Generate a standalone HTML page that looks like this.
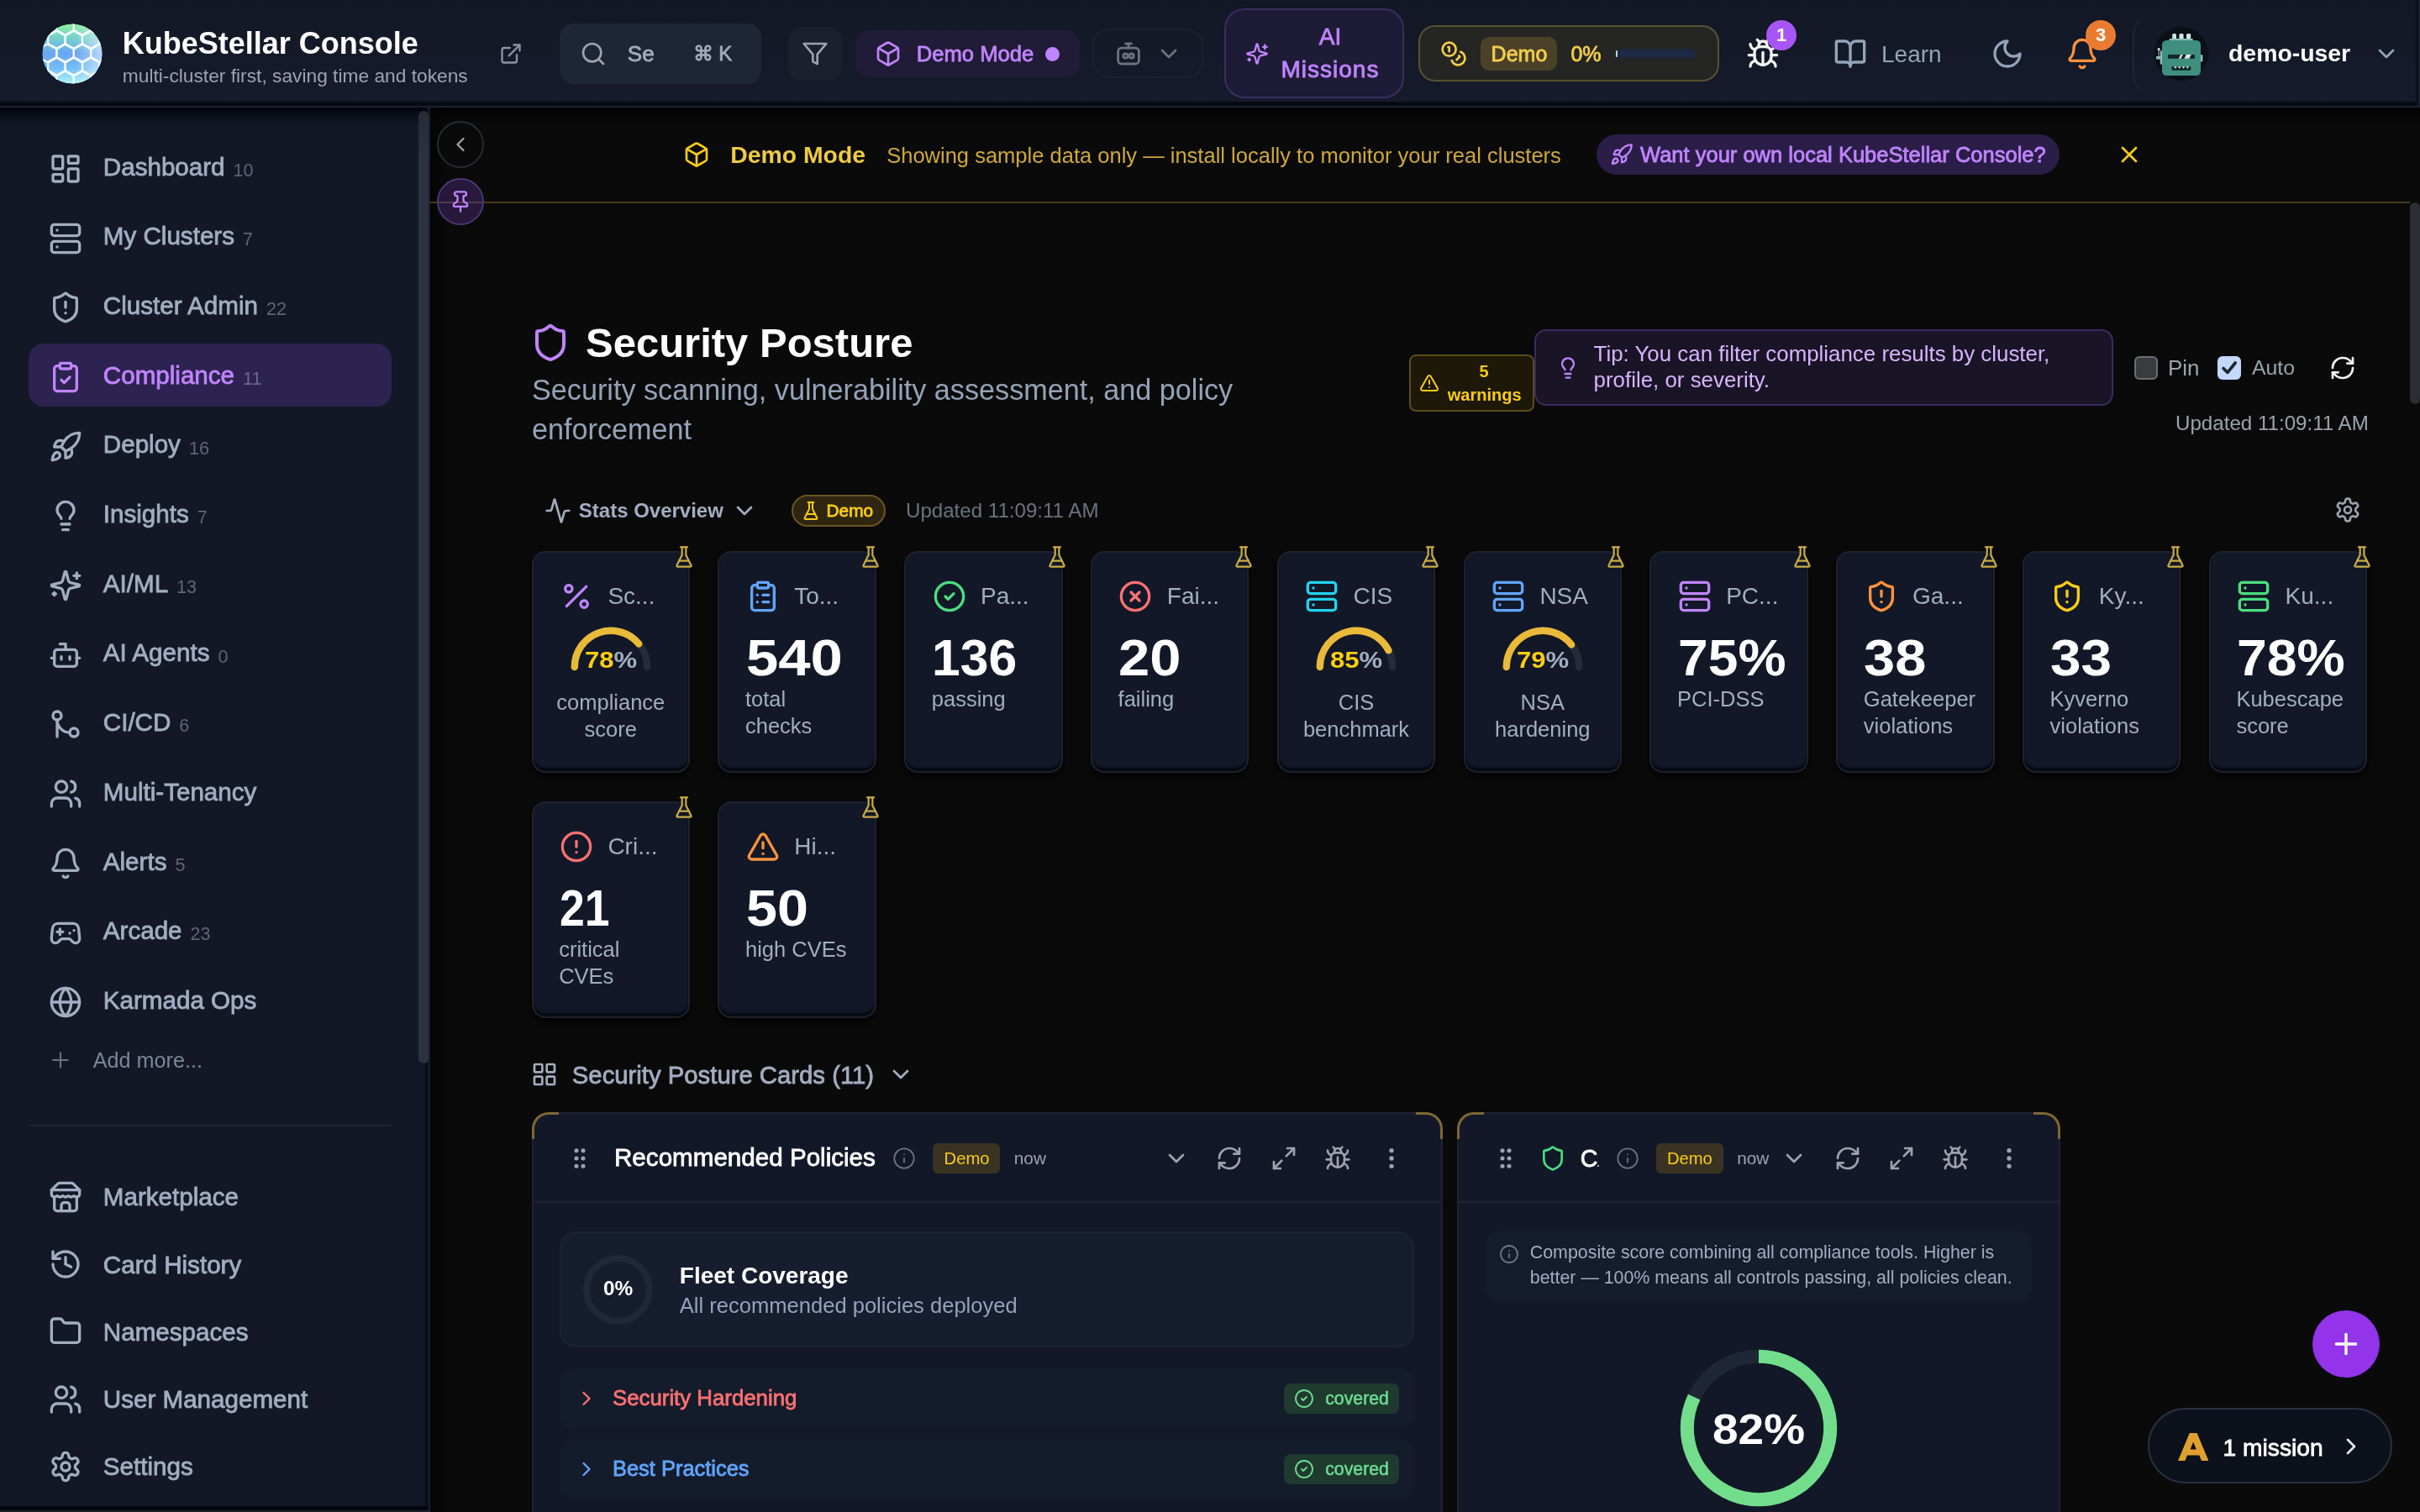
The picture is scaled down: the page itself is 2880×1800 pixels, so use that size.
<!DOCTYPE html>
<html><head><meta charset="utf-8">
<style>
html,body{margin:0;padding:0;background:#0a0a0a;}
body{width:2880px;height:1800px;overflow:hidden;}
#root{zoom:2;will-change:transform;width:1440px;height:900px;position:relative;overflow:hidden;font-family:"Liberation Sans",sans-serif;color:#e5e7eb;background:#0a0a0a;}
.a{position:absolute;}
.ic{fill:none;stroke:currentColor;stroke-width:2;stroke-linecap:round;stroke-linejoin:round;display:block;}
.t{white-space:nowrap;}
@media (min-resolution: 1.5dppx){body{width:1440px;height:900px;}#root{zoom:1;}}
</style></head><body><div id="root">
<svg width="0" height="0" style="position:absolute">
<defs>
<symbol id="i-dash" viewBox="0 0 24 24"><rect width="7" height="9" x="3" y="3" rx="1"/><rect width="7" height="5" x="14" y="3" rx="1"/><rect width="7" height="9" x="14" y="12" rx="1"/><rect width="7" height="5" x="3" y="16" rx="1"/></symbol>
<symbol id="i-server" viewBox="0 0 24 24"><rect width="20" height="8" x="2" y="2" rx="2" ry="2"/><rect width="20" height="8" x="2" y="14" rx="2" ry="2"/><line x1="6" x2="6.01" y1="6" y2="6"/><line x1="6" x2="6.01" y1="18" y2="18"/></symbol>
<symbol id="i-shield-alert" viewBox="0 0 24 24"><path d="M20 13c0 5-3.5 7.5-7.66 8.95a1 1 0 0 1-.67-.01C7.5 20.5 4 18 4 13V6a1 1 0 0 1 1-1c2 0 4.5-1.2 6.24-2.72a1.17 1.17 0 0 1 1.520 0C14.51 3.81 17 5 19 5a1 1 0 0 1 1 1z"/><path d="M12 8v4"/><path d="M12 16h.01"/></symbol>
<symbol id="i-shield" viewBox="0 0 24 24"><path d="M20 13c0 5-3.5 7.5-7.66 8.95a1 1 0 0 1-.67-.01C7.5 20.5 4 18 4 13V6a1 1 0 0 1 1-1c2 0 4.5-1.2 6.24-2.72a1.17 1.17 0 0 1 1.52 0C14.51 3.81 17 5 19 5a1 1 0 0 1 1 1z"/></symbol>
<symbol id="i-clip-check" viewBox="0 0 24 24"><rect width="8" height="4" x="8" y="2" rx="1" ry="1"/><path d="M16 4h2a2 2 0 0 1 2 2v14a2 2 0 0 1-2 2H6a2 2 0 0 1-2-2V6a2 2 0 0 1 2-2h2"/><path d="m9 14 2 2 4-4"/></symbol>
<symbol id="i-clip-list" viewBox="0 0 24 24"><rect width="8" height="4" x="8" y="2" rx="1" ry="1"/><path d="M16 4h2a2 2 0 0 1 2 2v14a2 2 0 0 1-2 2H6a2 2 0 0 1-2-2V6a2 2 0 0 1 2-2h2"/><path d="M12 11h4"/><path d="M12 16h4"/><path d="M8 11h.01"/><path d="M8 16h.01"/></symbol>
<symbol id="i-rocket" viewBox="0 0 24 24"><path d="M4.5 16.5c-1.5 1.26-2 5-2 5s3.74-.5 5-2c.71-.84.7-2.13-.09-2.91a2.18 2.18 0 0 0-2.91-.09z"/><path d="m12 15-3-3a22 22 0 0 1 2-3.950A12.88 12.88 0 0 1 22 2c0 2.72-.78 7.5-6 11a22.35 22.35 0 0 1-4 2z"/><path d="M9 12H4s.55-3.03 2-4c1.62-1.08 5 0 5 0"/><path d="M12 15v5s3.03-.55 4-2c1.08-1.62 0-5 0-5"/></symbol>
<symbol id="i-bulb" viewBox="0 0 24 24"><path d="M15 14c.2-1 .7-1.7 1.5-2.5 1-.9 1.5-2.2 1.5-3.5A6 6 0 0 0 6 8c0 1 .2 2.2 1.5 3.5.7.7 1.3 1.5 1.5 2.5"/><path d="M9 18h6"/><path d="M10 22h4"/></symbol>
<symbol id="i-sparkles" viewBox="0 0 24 24"><path d="M9.937 15.5A2 2 0 0 0 8.5 14.063l-6.135-1.582a.5.5 0 0 1 0-.962L8.5 9.936A2 2 0 0 0 9.937 8.5l1.582-6.135a.5.5 0 0 1 .963 0L14.063 8.5A2 2 0 0 0 15.5 9.937l6.135 1.581a.5.5 0 0 1 0 .964L15.5 14.063a2 2 0 0 0-1.437 1.437l-1.582 6.135a.5.5 0 0 1-.963 0z"/><path d="M20 3v4"/><path d="M22 5h-4"/><path d="M4 17v2"/><path d="M5 18H3"/></symbol>
<symbol id="i-bot" viewBox="0 0 24 24"><path d="M12 8V4H8"/><rect width="16" height="12" x="4" y="8" rx="2"/><path d="M2 14h2"/><path d="M20 14h2"/><path d="M15 13v2"/><path d="M9 13v2"/></symbol>
<symbol id="i-merge" viewBox="0 0 24 24"><circle cx="18" cy="18" r="3"/><circle cx="6" cy="6" r="3"/><path d="M6 21V9a9 9 0 0 0 9 9"/></symbol>
<symbol id="i-users" viewBox="0 0 24 24"><path d="M16 21v-2a4 4 0 0 0-4-4H6a4 4 0 0 0-4 4v2"/><circle cx="9" cy="7" r="4"/><path d="M22 21v-2a4 4 0 0 0-3-3.87"/><path d="M16 3.13a4 4 0 0 1 0 7.75"/></symbol>
<symbol id="i-bell" viewBox="0 0 24 24"><path d="M10.268 21a2 2 0 0 0 3.464 0"/><path d="M3.262 15.326A1 1 0 0 0 4 17h16a1 1 0 0 0 .74-1.673C19.41 13.956 18 12.499 18 8A6 6 0 0 0 6 8c0 4.499-1.411 5.956-2.738 7.326"/></symbol>
<symbol id="i-gamepad" viewBox="0 0 24 24"><line x1="6" x2="10" y1="11" y2="11"/><line x1="8" x2="8" y1="9" y2="13"/><line x1="15" x2="15.01" y1="12" y2="12"/><line x1="18" x2="18.01" y1="10" y2="10"/><path d="M17.32 5H6.68a4 4 0 0 0-3.978 3.59c-.006.052-.01.101-.017.152C2.604 9.416 2 14.456 2 16a3 3 0 0 0 3 3c1 0 1.5-.5 2-1l1.414-1.414A2 2 0 0 1 9.828 16h4.344a2 2 0 0 1 1.414.586L17 18c.5.5 1 1 2 1a3 3 0 0 0 3-3c0-1.545-.604-6.584-.685-7.258-.007-.05-.011-.1-.017-.151A4 4 0 0 0 17.32 5z"/></symbol>
<symbol id="i-globe" viewBox="0 0 24 24"><circle cx="12" cy="12" r="10"/><path d="M12 2a14.5 14.5 0 0 0 0 20 14.5 14.5 0 0 0 0-20"/><path d="M2 12h20"/></symbol>
<symbol id="i-plus" viewBox="0 0 24 24"><path d="M5 12h14"/><path d="M12 5v14"/></symbol>
<symbol id="i-store" viewBox="0 0 24 24"><path d="m2 7 4.41-4.41A2 2 0 0 1 7.830 2h8.34a2 2 0 0 1 1.42.59L22 7"/><path d="M4 12v8a2 2 0 0 0 2 2h12a2 2 0 0 0 2-2v-8"/><path d="M15 22v-4a2 2 0 0 0-2-2h-2a2 2 0 0 0-2 2v4"/><path d="M2 7h20"/><path d="M22 7v3a2 2 0 0 1-2 2a2.7 2.7 0 0 1-1.59-.63.7.7 0 0 0-.82 0A2.7 2.7 0 0 1 16 12a2.7 2.7 0 0 1-1.59-.63.7.7 0 0 0-.82 0A2.7 2.7 0 0 1 12 12a2.7 2.7 0 0 1-1.59-.63.7.7 0 0 0-.82 0A2.7 2.7 0 0 1 8 12a2.7 2.7 0 0 1-1.59-.63.7.7 0 0 0-.82 0A2.7 2.7 0 0 1 4 12a2 2 0 0 1-2-2V7"/></symbol>
<symbol id="i-history" viewBox="0 0 24 24"><path d="M3 12a9 9 0 1 0 9-9 9.75 9.75 0 0 0-6.74 2.74L3 8"/><path d="M3 3v5h5"/><path d="M12 7v5l4 2"/></symbol>
<symbol id="i-folder" viewBox="0 0 24 24"><path d="M20 20a2 2 0 0 0 2-2V8a2 2 0 0 0-2-2h-7.9a2 2 0 0 1-1.69-.9L9.6 3.9A2 2 0 0 0 7.93 3H4a2 2 0 0 0-2 2v13a2 2 0 0 0 2 2Z"/></symbol>
<symbol id="i-settings" viewBox="0 0 24 24"><path d="M12.22 2h-.44a2 2 0 0 0-2 2v.18a2 2 0 0 1-1 1.73l-.43.25a2 2 0 0 1-2 0l-.15-.08a2 2 0 0 0-2.73.73l-.22.38a2 2 0 0 0 .73 2.73l.15.1a2 2 0 0 1 1 1.72v.51a2 2 0 0 1-1 1.74l-.15.09a2 2 0 0 0-.73 2.73l.22.38a2 2 0 0 0 2.73.73l.15-.08a2 2 0 0 1 2 0l.43.25a2 2 0 0 1 1 1.730V20a2 2 0 0 0 2 2h.44a2 2 0 0 0 2-2v-.18a2 2 0 0 1 1-1.73l.43-.25a2 2 0 0 1 2 0l.15.08a2 2 0 0 0 2.73-.73l.22-.39a2 2 0 0 0-.73-2.73l-.15-.08a2 2 0 0 1-1-1.74v-.5a2 2 0 0 1 1-1.74l.15-.09a2 2 0 0 0 .73-2.73l-.22-.38a2 2 0 0 0-2.73-.73l-.15.08a2 2 0 0 1-2 0l-.43-.25a2 2 0 0 1-1-1.73V4a2 2 0 0 0-2-2z"/><circle cx="12" cy="12" r="3"/></symbol>
<symbol id="i-search" viewBox="0 0 24 24"><circle cx="11" cy="11" r="8"/><path d="m21 21-4.3-4.3"/></symbol>
<symbol id="i-filter" viewBox="0 0 24 24"><polygon points="22 3 2 3 10 12.46 10 19 14 21 14 12.46 22 3"/></symbol>
<symbol id="i-box" viewBox="0 0 24 24"><path d="M21 8a2 2 0 0 0-1-1.73l-7-4a2 2 0 0 0-2 0l-7 4A2 2 0 0 0 3 8v8a2 2 0 0 0 1 1.73l7 4a2 2 0 0 0 2 0l7-4A2 2 0 0 0 21 16Z"/><path d="m3.3 7 8.7 5 8.7-5"/><path d="M12 22V12"/></symbol>
<symbol id="i-coins" viewBox="0 0 24 24"><circle cx="8" cy="8" r="6"/><path d="M18.09 10.37A6 6 0 1 1 10.34 18"/><path d="M7 6h1v4"/><path d="m16.71 13.88.7.71-2.82 2.82"/></symbol>
<symbol id="i-bug" viewBox="0 0 24 24"><path d="m8 2 1.88 1.88"/><path d="M14.12 3.88 16 2"/><path d="M9 7.13v-1a3.003 3.003 0 1 1 6 0v1"/><path d="M12 20c-3.3 0-6-2.7-6-6v-3a4 4 0 0 1 4-4h4a4 4 0 0 1 4 4v3c0 3.3-2.7 6-6 6"/><path d="M12 20v-9"/><path d="M6.53 9C4.6 8.8 3 7.1 3 5"/><path d="M6 13H2"/><path d="M3 21c0-2.1 1.7-3.9 3.8-4"/><path d="M20.97 5c0 2.1-1.6 3.8-3.5 4"/><path d="M22 13h-4"/><path d="M17.2 17c2.1.1 3.8 1.9 3.8 4"/></symbol>
<symbol id="i-book" viewBox="0 0 24 24"><path d="M12 7v14"/><path d="M3 18a1 1 0 0 1-1-1V4a1 1 0 0 1 1-1h5a4 4 0 0 1 4 4 4 4 0 0 1 4-4h5a1 1 0 0 1 1 1v13a1 1 0 0 1-1 1h-6a3 3 0 0 0-3 3 3 3 0 0 0-3-3z"/></symbol>
<symbol id="i-moon" viewBox="0 0 24 24"><path d="M12 3a6 6 0 0 0 9 9 9 9 0 1 1-9-9Z"/></symbol>
<symbol id="i-chev-down" viewBox="0 0 24 24"><path d="m6 9 6 6 6-6"/></symbol>
<symbol id="i-chev-left" viewBox="0 0 24 24"><path d="m15 18-6-6 6-6"/></symbol>
<symbol id="i-chev-right" viewBox="0 0 24 24"><path d="m9 18 6-6-6-6"/></symbol>
<symbol id="i-pin" viewBox="0 0 24 24"><path d="M12 17v5"/><path d="M9 10.76a2 2 0 0 1-1.11 1.79l-1.78.9A2 2 0 0 0 5 15.24V16a1 1 0 0 0 1 1h12a1 1 0 0 0 1-1v-.76a2 2 0 0 0-1.11-1.79l-1.78-.9A2 2 0 0 1 15 10.76V7a1 1 0 0 1 1-1 2 2 0 0 0 0-4H8a2 2 0 0 0 0 4 1 1 0 0 1 1 1z"/></symbol>
<symbol id="i-ext" viewBox="0 0 24 24"><path d="M15 3h6v6"/><path d="M10 14 21 3"/><path d="M18 13v6a2 2 0 0 1-2 2H5a2 2 0 0 1-2-2V8a2 2 0 0 1 2-2h6"/></symbol>
<symbol id="i-x" viewBox="0 0 24 24"><path d="M18 6 6 18"/><path d="m6 6 12 12"/></symbol>
<symbol id="i-tri" viewBox="0 0 24 24"><path d="m21.73 18-8-14a2 2 0 0 0-3.48 0l-8 14A2 2 0 0 0 4 21h16a2 2 0 0 0 1.73-3"/><path d="M12 9v4"/><path d="M12 17h.01"/></symbol>
<symbol id="i-refresh" viewBox="0 0 24 24"><path d="M3 12a9 9 0 0 1 9-9 9.75 9.75 0 0 1 6.74 2.74L21 8"/><path d="M21 3v5h-5"/><path d="M21 12a9 9 0 0 1-9 9 9.75 9.75 0 0 1-6.74-2.74L3 16"/><path d="M8 16H3v5"/></symbol>
<symbol id="i-activity" viewBox="0 0 24 24"><path d="M22 12h-2.48a2 2 0 0 0-1.93 1.46l-2.35 8.36a.25.25 0 0 1-.48 0L9.24 2.18a.25.25 0 0 0-.48 0l-2.35 8.36A2 2 0 0 1 4.49 12H2"/></symbol>
<symbol id="i-flask" viewBox="0 0 24 24"><path d="M10 2v7.527a2 2 0 0 1-.211.896L4.72 20.55a1 1 0 0 0 .9 1.45h12.76a1 1 0 0 0 .9-1.45l-5.069-10.127A2 2 0 0 1 14 9.527V2"/><path d="M8.5 2h7"/><path d="M7 16h10"/></symbol>
<symbol id="i-percent" viewBox="0 0 24 24"><line x1="19" x2="5" y1="5" y2="19"/><circle cx="6.5" cy="6.5" r="2.5"/><circle cx="17.5" cy="17.5" r="2.5"/></symbol>
<symbol id="i-ccheck" viewBox="0 0 24 24"><circle cx="12" cy="12" r="10"/><path d="m9 12 2 2 4-4"/></symbol>
<symbol id="i-cx" viewBox="0 0 24 24"><circle cx="12" cy="12" r="10"/><path d="m15 9-6 6"/><path d="m9 9 6 6"/></symbol>
<symbol id="i-calert" viewBox="0 0 24 24"><circle cx="12" cy="12" r="10"/><line x1="12" x2="12" y1="8" y2="12"/><line x1="12" x2="12.01" y1="16" y2="16"/></symbol>
<symbol id="i-grid" viewBox="0 0 24 24"><rect width="7" height="7" x="3" y="3" rx="1"/><rect width="7" height="7" x="14" y="3" rx="1"/><rect width="7" height="7" x="14" y="14" rx="1"/><rect width="7" height="7" x="3" y="14" rx="1"/></symbol>
<symbol id="i-grip" viewBox="0 0 24 24"><circle cx="9" cy="12" r="1"/><circle cx="9" cy="5" r="1"/><circle cx="9" cy="19" r="1"/><circle cx="15" cy="12" r="1"/><circle cx="15" cy="5" r="1"/><circle cx="15" cy="19" r="1"/></symbol>
<symbol id="i-info" viewBox="0 0 24 24"><circle cx="12" cy="12" r="10"/><path d="M12 16v-4"/><path d="M12 8h.01"/></symbol>
<symbol id="i-max" viewBox="0 0 24 24"><polyline points="15 3 21 3 21 9"/><polyline points="9 21 3 21 3 15"/><line x1="21" x2="14" y1="3" y2="10"/><line x1="3" x2="10" y1="21" y2="14"/></symbol>
<symbol id="i-more" viewBox="0 0 24 24"><circle cx="12" cy="12" r="1"/><circle cx="12" cy="5" r="1"/><circle cx="12" cy="19" r="1"/></symbol>
</defs></svg><div class="a" style="left:0;top:0;width:1440px;height:60.5px;background:linear-gradient(#121825,#151b2b)"></div>
<div class="a" style="left:0.00px;top:60.50px;width:1440.00px;height:2.40px;background:#070a12;border-radius:0px;"></div>
<div class="a" style="left:0.00px;top:62.90px;width:1440.00px;height:1.10px;background:#1d2231;border-radius:0px;"></div>
<div class="a" style="left:1437.30px;top:0.00px;width:1.60px;height:62.90px;background:#0b0f19;border-radius:0px;"></div>
<div class="a" style="left:1438.90px;top:0.00px;width:1.10px;height:64.00px;background:#1a1f2c;border-radius:0px;"></div>
<svg class="a" style="left:25px;top:14px" width="36" height="36" viewBox="-18 -18 36 36">
<defs><clipPath id="lc"><circle r="17.8"/></clipPath>
<linearGradient id="lg" x1="0" y1="-18" x2="0" y2="18" gradientUnits="userSpaceOnUse"><stop offset="0" stop-color="#8cf29a"/><stop offset="0.3" stop-color="#72c7d6"/><stop offset="0.5" stop-color="#6aa4f4"/><stop offset="0.75" stop-color="#74c0f6"/><stop offset="1" stop-color="#b4f6f8"/></linearGradient>
<linearGradient id="lw" x1="-18" y1="0" x2="18" y2="0" gradientUnits="userSpaceOnUse"><stop offset="0.55" stop-color="#fff" stop-opacity="0"/><stop offset="1" stop-color="#fff" stop-opacity="0.55"/></linearGradient>
<g id="hx"><polygon points="0,-5.6 5.1,-2.8 5.1,2.8 0,5.6 -5.1,2.8 -5.1,-2.8"/></g></defs>
<g clip-path="url(#lc)">
<circle r="18" fill="url(#lg)"/><circle r="18" fill="url(#lw)"/>
<g fill="none" stroke="#f4fbff" stroke-width="1.1">
<use href="#hx" x="-4.2" y="-16.4"/><use href="#hx" x="6" y="-16.4"/><use href="#hx" x="-14.4" y="-16.4"/><use href="#hx" x="16.2" y="-16.4"/>
<use href="#hx" x="-9.3" y="-8.4"/><use href="#hx" x="0.9" y="-8.4"/><use href="#hx" x="11.1" y="-8.4"/>
<use href="#hx" x="-14.4" y="-0.4"/><use href="#hx" x="-4.2" y="-0.4"/><use href="#hx" x="6" y="-0.4"/><use href="#hx" x="16.2" y="-0.4"/>
<use href="#hx" x="-9.3" y="7.6"/><use href="#hx" x="0.9" y="7.6"/><use href="#hx" x="11.1" y="7.6"/>
<use href="#hx" x="-4.2" y="15.6"/><use href="#hx" x="6" y="15.6"/><use href="#hx" x="-14.4" y="15.6"/><use href="#hx" x="16.2" y="15.6"/>
</g></g></svg>

<div class="a t" id="ttl" style="left:72.90px;top:14.96px;font-size:18px;line-height:22px;color:#ffffff;font-weight:700;">KubeStellar Console</div>
<div class="a t" id="sub" style="left:72.90px;top:38.16px;font-size:11.38px;line-height:14px;color:#9aa3b5;">multi-cluster first, saving time and tokens</div>
<svg class="a ic" style="left:297.00px;top:25.00px;color:#8b93a5;stroke-width:2;" width="14" height="14"><use href="#i-ext"/></svg>
<div class="a" style="left:333.00px;top:14.00px;width:120.00px;height:36.00px;background:#1e2535;border-radius:8px;"></div>
<svg class="a ic" style="left:345.00px;top:24.00px;color:#9ca3af;stroke-width:2;" width="16" height="16"><use href="#i-search"/></svg>
<div class="a t" style="left:373.40px;top:23.90px;font-size:13px;line-height:16px;color:#a3abba;-webkit-text-stroke:0.4px currentColor;">Se</div>
<div class="a t" style="left:412.30px;top:24.74px;font-size:12px;line-height:15px;color:#a3abba;-webkit-text-stroke:0.4px currentColor;">&#8984; K</div>
<div class="a" style="left:469.00px;top:16.00px;width:32.00px;height:32.00px;background:#1a202d;border-radius:8px;"></div>
<svg class="a ic" style="left:477.00px;top:24.00px;color:#9ca3af;stroke-width:2;" width="16" height="16"><use href="#i-filter"/></svg>
<div class="a" style="left:509.00px;top:18.00px;width:133.50px;height:28.00px;background:#201b36;border-radius:8px;"></div>
<svg class="a ic" style="left:520.70px;top:24.00px;color:#c084fc;stroke-width:2;" width="16" height="16"><use href="#i-box"/></svg>
<div class="a t" id="dmp" style="left:545.40px;top:23.96px;font-size:12.8px;line-height:16px;color:#c084fc;-webkit-text-stroke:0.4px currentColor;">Demo Mode</div>
<div class="a" style="left:622.20px;top:27.80px;width:8.50px;height:8.50px;background:#c084fc;border-radius:5px;"></div>
<div class="a" style="left:650.00px;top:17.00px;width:66.00px;height:29.50px;background:transparent;border-radius:10px;border:1px solid #1b2130;box-sizing:border-box;"></div>
<svg class="a" style="left:663.5px;top:24px" width="16" height="16" viewBox="0 0 16 16" fill="none" stroke="#6b7280" stroke-width="1.4" stroke-linecap="round" stroke-linejoin="round"><path d="M8 2v2.5M6.3 2h3.4"/><rect x="1.8" y="4.6" width="12.4" height="9.4" rx="2"/><circle cx="6.2" cy="9.3" r="1.3"/><circle cx="9.8" cy="9.3" r="1.3"/></svg>
<svg class="a ic" style="left:687.30px;top:24.00px;color:#6b7280;stroke-width:2;" width="16" height="16"><use href="#i-chev-down"/></svg>
<div class="a" style="left:728.50px;top:5.20px;width:107.20px;height:53.30px;background:#1d1b36;border-radius:12px;border:1px solid #3b2d63;box-sizing:border-box;"></div>
<svg class="a ic" style="left:741.00px;top:25.00px;color:#c084fc;stroke-width:2;" width="14" height="14"><use href="#i-sparkles"/></svg>
<div class="a t" style="left:761.00px;top:12.95px;font-size:14px;line-height:18px;color:#c084fc;text-align:center;width:61.00px;-webkit-text-stroke:0.4px currentColor;">AI</div>
<div class="a t" style="left:761.00px;top:32.55px;font-size:14px;line-height:18px;color:#c084fc;letter-spacing:0.5px;text-align:center;width:61.00px;-webkit-text-stroke:0.4px currentColor;">Missions</div>
<div class="a" style="left:844.00px;top:15.00px;width:179.00px;height:33.50px;background:#252523;border-radius:10px;border:1px solid #5a4f30;box-sizing:border-box;"></div>
<svg class="a ic" style="left:857.00px;top:24.00px;color:#f2cd4c;stroke-width:2;" width="16" height="16"><use href="#i-coins"/></svg>
<div class="a" style="left:881.00px;top:22.00px;width:45.40px;height:20.00px;background:#4b4128;border-radius:5px;"></div>
<div class="a t" style="left:887.30px;top:23.87px;font-size:12.5px;line-height:16px;color:#f2cd4c;-webkit-text-stroke:0.4px currentColor;">Demo</div>
<div class="a t" style="left:934.70px;top:23.87px;font-size:12.5px;line-height:16px;color:#f2cd4c;-webkit-text-stroke:0.4px currentColor;">0%</div>
<div class="a" style="left:963px;top:29.5px;width:46px;height:5px;background:#1c2a48;filter:blur(0.9px)"></div>
<div class="a" style="left:961.60px;top:30.00px;width:0.90px;height:4.00px;background:#c9ced8;border-radius:0.5px;"></div>
<svg class="a ic" style="left:1039.00px;top:22.00px;color:#f3f4f6;stroke-width:2;" width="20" height="20"><use href="#i-bug"/></svg>
<div class="a" style="left:1051px;top:12px;width:18px;height:18px;border-radius:50%;background:#a855f7;color:#fff;font-size:11px;font-weight:700;line-height:18px;text-align:center">1</div>
<svg class="a ic" style="left:1091.00px;top:22.00px;color:#94a3b8;stroke-width:2;" width="20" height="20"><use href="#i-book"/></svg>
<div class="a t" style="left:1119.50px;top:23.35px;font-size:14px;line-height:18px;color:#94a3b8;">Learn</div>
<svg class="a ic" style="left:1184.50px;top:22.00px;color:#94a3b8;stroke-width:2;" width="20" height="20"><use href="#i-moon"/></svg>
<svg class="a ic" style="left:1229.00px;top:22.00px;color:#fb923c;stroke-width:2;" width="20" height="20"><use href="#i-bell"/></svg>
<div class="a" style="left:1241px;top:12px;width:18px;height:18px;border-radius:50%;background:#ea7c31;color:#fff;font-size:11px;font-weight:700;line-height:18px;text-align:center">3</div>
<div class="a" style="left:1269px;top:9px;width:40px;height:47px;border-left:1px solid #1f2533;border-radius:12px 0 0 12px"></div>
<div class="a" style="left:1282px;top:16px;width:32px;height:32px;border-radius:50%;background:#0b0f16"></div>
<svg class="a" style="left:1282px;top:16px" width="32" height="32" viewBox="0 0 32 32">
<rect x="10.6" y="4" width="2.4" height="3.6" rx="0.8" fill="#c9e6df"/><rect x="14.7" y="4" width="2.6" height="3.6" rx="0.8" fill="#c9e6df"/><rect x="19" y="4" width="2.6" height="3.6" rx="0.8" fill="#c9e6df"/>
<rect x="8.8" y="7" width="14" height="1.3" fill="#8fbfb4"/>
<rect x="3.4" y="14.2" width="1.4" height="8.1" fill="#8fbfb4"/><rect x="1" y="17.5" width="2.6" height="1.8" fill="#8fbfb4"/>
<rect x="2.3" y="13.4" width="0.5" height="4.2" fill="#a9c9c2"/><circle cx="2.55" cy="13.3" r="0.75" fill="#f1e6cf"/>
<rect x="27.2" y="16.6" width="1.5" height="4.2" rx="0.4" fill="#8fbfb4"/>
<rect x="4.5" y="8" width="23" height="21" rx="2.6" fill="#3f8f7e"/>
<rect x="8" y="16.5" width="16" height="2.4" rx="0.6" fill="#0f2624"/>
<path d="M14.4 18.9l1.2-2.4h1.3l-1.2 2.4z M17.7 18.9l1.2-2.4h3l-1.2 2.4z" fill="#dfe9e7"/>
<rect x="10.3" y="23.5" width="11.3" height="2.4" rx="0.4" fill="#0f2624"/>
<path d="M11.5 23.6h1.9l-0.95 1.3z M13.9 23.6h1.9l-0.95 1.3z M16.3 23.6h1.9l-0.95 1.3z M18.7 23.6h1.9l-0.95 1.3z" fill="#e6eef0"/>
</svg>

<div class="a t" id="usr" style="left:1326.00px;top:22.53px;font-size:14.2px;line-height:18px;color:#ffffff;font-weight:700;">demo-user</div>
<svg class="a ic" style="left:1412.00px;top:24.00px;color:#94a3b8;stroke-width:2;" width="16" height="16"><use href="#i-chev-down"/></svg>
<div class="a" style="left:0.00px;top:64.00px;width:255.00px;height:836.00px;background:#121826;border-radius:0px;"></div>
<div class="a" style="left:0;top:64px;width:255px;height:10px;background:linear-gradient(#02040a,rgba(18,24,38,0))"></div>
<div class="a" style="left:256px;top:64px;width:1184px;height:10px;background:linear-gradient(#000,rgba(10,10,10,0))"></div>
<div class="a" style="left:252.90px;top:64.00px;width:2.20px;height:836.00px;background:#0b0f19;border-radius:0px;"></div>
<div class="a" style="left:255.10px;top:64.00px;width:0.90px;height:836.00px;background:#1a1f2c;border-radius:0px;"></div>
<div class="a" style="left:0.00px;top:896.60px;width:255.10px;height:2.20px;background:#04060e;border-radius:0px;"></div>
<div class="a" style="left:0.00px;top:898.80px;width:256.00px;height:1.20px;background:#1a1f2c;border-radius:0px;"></div>
<div class="a" style="left:249px;top:66px;width:6px;height:567px;border-radius:3px;background:linear-gradient(#252b37,#2c3340 30px,#2c3340)"></div>
<div class="a" style="left:256px;top:64px;width:12px;height:836px;background:linear-gradient(90deg,#040404,rgba(10,10,10,0))"></div>
<svg class="a ic" style="left:29.00px;top:90.40px;color:#a3adc1;stroke-width:2;" width="20" height="20"><use href="#i-dash"/></svg>
<div class="a t" style="left:61.40px;top:90.27px;font-size:14.8px;line-height:18px;color:#a3adc1;-webkit-text-stroke:0.4px currentColor;">Dashboard<span style="font-size:10.8px;color:#5d6577;margin-left:5px;-webkit-text-stroke:0;position:relative;top:0.6px">10</span></div>
<svg class="a ic" style="left:29.00px;top:131.75px;color:#a3adc1;stroke-width:2;" width="20" height="20"><use href="#i-server"/></svg>
<div class="a t" style="left:61.40px;top:131.62px;font-size:14.8px;line-height:18px;color:#a3adc1;-webkit-text-stroke:0.4px currentColor;">My Clusters<span style="font-size:10.8px;color:#5d6577;margin-left:5px;-webkit-text-stroke:0;position:relative;top:0.6px">7</span></div>
<svg class="a ic" style="left:29.00px;top:173.10px;color:#a3adc1;stroke-width:2;" width="20" height="20"><use href="#i-shield-alert"/></svg>
<div class="a t" style="left:61.40px;top:172.97px;font-size:14.8px;line-height:18px;color:#a3adc1;-webkit-text-stroke:0.4px currentColor;">Cluster Admin<span style="font-size:10.8px;color:#5d6577;margin-left:5px;-webkit-text-stroke:0;position:relative;top:0.6px">22</span></div>
<div class="a" style="left:17.00px;top:204.70px;width:216.00px;height:37.50px;background:#2c2350;border-radius:9px;"></div>
<svg class="a ic" style="left:29.00px;top:214.45px;color:#c084fc;stroke-width:2;" width="20" height="20"><use href="#i-clip-check"/></svg>
<div class="a t" style="left:61.40px;top:214.32px;font-size:14.8px;line-height:18px;color:#c084fc;-webkit-text-stroke:0.4px currentColor;">Compliance<span style="font-size:10.8px;color:#6a6790;margin-left:5px;-webkit-text-stroke:0;position:relative;top:0.6px">11</span></div>
<svg class="a ic" style="left:29.00px;top:255.80px;color:#a3adc1;stroke-width:2;" width="20" height="20"><use href="#i-rocket"/></svg>
<div class="a t" style="left:61.40px;top:255.67px;font-size:14.8px;line-height:18px;color:#a3adc1;-webkit-text-stroke:0.4px currentColor;">Deploy<span style="font-size:10.8px;color:#5d6577;margin-left:5px;-webkit-text-stroke:0;position:relative;top:0.6px">16</span></div>
<svg class="a ic" style="left:29.00px;top:297.15px;color:#a3adc1;stroke-width:2;" width="20" height="20"><use href="#i-bulb"/></svg>
<div class="a t" style="left:61.40px;top:297.02px;font-size:14.8px;line-height:18px;color:#a3adc1;-webkit-text-stroke:0.4px currentColor;">Insights<span style="font-size:10.8px;color:#5d6577;margin-left:5px;-webkit-text-stroke:0;position:relative;top:0.6px">7</span></div>
<svg class="a ic" style="left:29.00px;top:338.50px;color:#a3adc1;stroke-width:2;" width="20" height="20"><use href="#i-sparkles"/></svg>
<div class="a t" style="left:61.40px;top:338.37px;font-size:14.8px;line-height:18px;color:#a3adc1;-webkit-text-stroke:0.4px currentColor;">AI/ML<span style="font-size:10.8px;color:#5d6577;margin-left:5px;-webkit-text-stroke:0;position:relative;top:0.6px">13</span></div>
<svg class="a ic" style="left:29.00px;top:379.85px;color:#a3adc1;stroke-width:2;" width="20" height="20"><use href="#i-bot"/></svg>
<div class="a t" style="left:61.40px;top:379.72px;font-size:14.8px;line-height:18px;color:#a3adc1;-webkit-text-stroke:0.4px currentColor;">AI Agents<span style="font-size:10.8px;color:#5d6577;margin-left:5px;-webkit-text-stroke:0;position:relative;top:0.6px">0</span></div>
<svg class="a ic" style="left:29.00px;top:421.20px;color:#a3adc1;stroke-width:2;" width="20" height="20"><use href="#i-merge"/></svg>
<div class="a t" style="left:61.40px;top:421.07px;font-size:14.8px;line-height:18px;color:#a3adc1;-webkit-text-stroke:0.4px currentColor;">CI/CD<span style="font-size:10.8px;color:#5d6577;margin-left:5px;-webkit-text-stroke:0;position:relative;top:0.6px">6</span></div>
<svg class="a ic" style="left:29.00px;top:462.55px;color:#a3adc1;stroke-width:2;" width="20" height="20"><use href="#i-users"/></svg>
<div class="a t" style="left:61.40px;top:462.42px;font-size:14.8px;line-height:18px;color:#a3adc1;-webkit-text-stroke:0.4px currentColor;">Multi-Tenancy</div>
<svg class="a ic" style="left:29.00px;top:503.90px;color:#a3adc1;stroke-width:2;" width="20" height="20"><use href="#i-bell"/></svg>
<div class="a t" style="left:61.40px;top:503.77px;font-size:14.8px;line-height:18px;color:#a3adc1;-webkit-text-stroke:0.4px currentColor;">Alerts<span style="font-size:10.8px;color:#5d6577;margin-left:5px;-webkit-text-stroke:0;position:relative;top:0.6px">5</span></div>
<svg class="a ic" style="left:29.00px;top:545.25px;color:#a3adc1;stroke-width:2;" width="20" height="20"><use href="#i-gamepad"/></svg>
<div class="a t" style="left:61.40px;top:545.12px;font-size:14.8px;line-height:18px;color:#a3adc1;-webkit-text-stroke:0.4px currentColor;">Arcade<span style="font-size:10.8px;color:#5d6577;margin-left:5px;-webkit-text-stroke:0;position:relative;top:0.6px">23</span></div>
<svg class="a ic" style="left:29.00px;top:586.60px;color:#a3adc1;stroke-width:2;" width="20" height="20"><use href="#i-globe"/></svg>
<div class="a t" style="left:61.40px;top:586.47px;font-size:14.8px;line-height:18px;color:#a3adc1;-webkit-text-stroke:0.4px currentColor;">Karmada Ops</div>
<svg class="a ic" style="left:28.50px;top:623.70px;color:#6b7280;stroke-width:1.6;" width="15" height="15"><use href="#i-plus"/></svg>
<div class="a t" style="left:55.40px;top:623.13px;font-size:12.6px;line-height:16px;color:#7c8598;">Add more...</div>
<div class="a" style="left:17.00px;top:669.50px;width:216.00px;height:1.00px;background:#1e2433;border-radius:0px;"></div>
<svg class="a ic" style="left:29.00px;top:702.50px;color:#a3adc1;stroke-width:2;" width="20" height="20"><use href="#i-store"/></svg>
<div class="a t" style="left:61.40px;top:703.67px;font-size:14.8px;line-height:18px;color:#a3adc1;-webkit-text-stroke:0.4px currentColor;">Marketplace</div>
<svg class="a ic" style="left:29.00px;top:742.60px;color:#a3adc1;stroke-width:2;" width="20" height="20"><use href="#i-history"/></svg>
<div class="a t" style="left:61.40px;top:743.77px;font-size:14.8px;line-height:18px;color:#a3adc1;-webkit-text-stroke:0.4px currentColor;">Card History</div>
<svg class="a ic" style="left:29.00px;top:782.70px;color:#a3adc1;stroke-width:2;" width="20" height="20"><use href="#i-folder"/></svg>
<div class="a t" style="left:61.40px;top:783.87px;font-size:14.8px;line-height:18px;color:#a3adc1;-webkit-text-stroke:0.4px currentColor;">Namespaces</div>
<svg class="a ic" style="left:29.00px;top:822.80px;color:#a3adc1;stroke-width:2;" width="20" height="20"><use href="#i-users"/></svg>
<div class="a t" style="left:61.40px;top:823.97px;font-size:14.8px;line-height:18px;color:#a3adc1;-webkit-text-stroke:0.4px currentColor;">User Management</div>
<svg class="a ic" style="left:29.00px;top:862.90px;color:#a3adc1;stroke-width:2;" width="20" height="20"><use href="#i-settings"/></svg>
<div class="a t" style="left:61.40px;top:864.07px;font-size:14.8px;line-height:18px;color:#a3adc1;-webkit-text-stroke:0.4px currentColor;">Settings</div>
<div class="a" style="left:1434.00px;top:120.50px;width:6.00px;height:120.00px;background:#2a2d34;border-radius:3px;"></div>
<div class="a" style="left:260.00px;top:72.00px;width:28.00px;height:28.00px;background:#0a0a0a;border-radius:14px;border:1px solid #262b36;box-sizing:border-box;"></div>
<svg class="a ic" style="left:267.00px;top:79.00px;color:#9ca3af;stroke-width:2;" width="14" height="14"><use href="#i-chev-left"/></svg>
<div class="a" style="left:256.00px;top:120.00px;width:1178.00px;height:1.00px;background:#473a18;border-radius:0px;"></div>
<div class="a" style="left:260.00px;top:106.00px;width:28.00px;height:28.00px;background:rgba(110,60,180,0.30);border-radius:14px;border:1px solid #4a3775;box-sizing:border-box;"></div>
<svg class="a ic" style="left:267.00px;top:113.00px;color:#c084fc;stroke-width:2;" width="14" height="14"><use href="#i-pin"/></svg>
<svg class="a ic" style="left:406.50px;top:84.00px;color:#facc15;stroke-width:2;" width="16" height="16"><use href="#i-box"/></svg>
<div class="a t" id="bdm" style="left:434.60px;top:83.08px;font-size:14.2px;line-height:18px;color:#efca45;font-weight:700;">Demo Mode</div>
<div class="a t" id="bsh" style="left:527.60px;top:84.58px;font-size:12.76px;line-height:16px;color:#cfa83c;">Showing sample data only — install locally to monitor your real clusters</div>
<div class="a" style="left:950.00px;top:80.00px;width:275.50px;height:24.00px;background:#2a1d48;border-radius:12px;"></div>
<svg class="a ic" style="left:958.00px;top:85.00px;color:#c084fc;stroke-width:2;" width="14" height="14"><use href="#i-rocket"/></svg>
<div class="a t" id="bwy" style="left:976.00px;top:84.08px;font-size:12.76px;line-height:16px;color:#c084fc;-webkit-text-stroke:0.4px currentColor;">Want your own local KubeStellar Console?</div>
<svg class="a ic" style="left:1259.00px;top:84.00px;color:#facc15;stroke-width:2;" width="16" height="16"><use href="#i-x"/></svg>
<svg class="a ic" style="left:315.50px;top:192.00px;color:#c084fc;stroke-width:2;" width="24" height="24"><use href="#i-shield"/></svg>
<div class="a t" id="ttl2" style="left:348.50px;top:188.51px;font-size:24.5px;line-height:31px;color:#ffffff;font-weight:700;">Security Posture</div>
<div class="a t" id="sub2" style="left:316.50px;top:221.47px;font-size:17.1px;line-height:21px;color:#94a3b8;">Security scanning, vulnerability assessment, and policy</div>
<div class="a t" style="left:316.50px;top:245.17px;font-size:17.1px;line-height:21px;color:#94a3b8;">enforcement</div>
<div class="a" style="left:838.65px;top:211.00px;width:74.25px;height:33.85px;background:#1d1808;border-radius:4px;border:1px solid #5e4b16;box-sizing:border-box;"></div>
<svg class="a ic" style="left:844.70px;top:222.00px;color:#facc15;stroke-width:2;" width="12" height="12"><use href="#i-tri"/></svg>
<div class="a t" style="left:858.00px;top:215.03px;font-size:10px;line-height:12px;color:#facc15;font-weight:700;text-align:center;width:50.00px;">5</div>
<div class="a t" style="left:861.40px;top:228.94px;font-size:10px;line-height:12px;color:#facc15;font-weight:700;">warnings</div>
<div class="a" style="left:913.20px;top:196.00px;width:344.30px;height:45.50px;background:#1a1427;border-radius:7px;border:1px solid #3a2b62;box-sizing:border-box;"></div>
<svg class="a ic" style="left:925.90px;top:212.00px;color:#c084fc;stroke-width:2;" width="14" height="14"><use href="#i-bulb"/></svg>
<div class="a t" id="tip" style="left:948.30px;top:202.52px;font-size:12.94px;line-height:16px;color:#d8b4fe;">Tip: You can filter compliance results by cluster,</div>
<div class="a t" style="left:948.30px;top:218.12px;font-size:12.94px;line-height:16px;color:#d8b4fe;">profile, or severity.</div>
<div class="a" style="left:1270.00px;top:212.00px;width:14.00px;height:14.00px;background:#3a3b3f;border-radius:3px;border:1px solid #6b6e75;box-sizing:border-box;"></div>
<div class="a t" style="left:1290.00px;top:211.00px;font-size:13px;line-height:16px;color:#9ca3af;">Pin</div>
<div class="a" style="left:1319.50px;top:212.00px;width:14.00px;height:14.00px;background:#c3d8fb;border-radius:3px;"></div>
<svg class="a" style="left:1320.5px;top:213px" width="12" height="12" viewBox="0 0 12 12"><path d="M2.5 6.2 5 8.7 9.6 3" fill="none" stroke="#1f2430" stroke-width="1.8" stroke-linecap="round" stroke-linejoin="round"/></svg>
<div class="a t" style="left:1340.00px;top:211.20px;font-size:12.4px;line-height:16px;color:#9ca3af;">Auto</div>
<svg class="a ic" style="left:1386.00px;top:211.00px;color:#f3f4f6;stroke-width:2;" width="16" height="16"><use href="#i-refresh"/></svg>
<div class="a t" id="upd1" style="left:1294.50px;top:244.32px;font-size:12.07px;line-height:15px;color:#9ca3af;">Updated 11:09:11 AM</div>
<svg class="a ic" style="left:324.00px;top:295.90px;color:#a3adc1;stroke-width:2;" width="16" height="16"><use href="#i-activity"/></svg>
<div class="a t" id="sov" style="left:344.40px;top:296.34px;font-size:12px;line-height:15px;color:#a3adc1;font-weight:700;">Stats Overview</div>
<svg class="a ic" style="left:435.00px;top:295.90px;color:#a3adc1;stroke-width:2;" width="16" height="16"><use href="#i-chev-down"/></svg>
<div class="a" style="left:471.00px;top:294.40px;width:56.00px;height:19.20px;background:#2e2610;border-radius:10px;border:1px solid #6b5520;box-sizing:border-box;"></div>
<svg class="a ic" style="left:476.70px;top:298.00px;color:#facc15;stroke-width:2;" width="12" height="12"><use href="#i-flask"/></svg>
<div class="a t" style="left:491.80px;top:297.70px;font-size:10.4px;line-height:13px;color:#facc15;-webkit-text-stroke:0.4px currentColor;">Demo</div>
<div class="a t" id="upd2" style="left:539.00px;top:296.32px;font-size:12.05px;line-height:15px;color:#6b7280;">Updated 11:09:11 AM</div>
<svg class="a ic" style="left:1389.00px;top:295.50px;color:#9ca3af;stroke-width:2;" width="16" height="16"><use href="#i-settings"/></svg>
<div class="a" style="left:316.30px;top:328px;width:94.2px;height:132px;border-radius:8px;background:#121827;border:1px solid #1d222d;box-sizing:border-box;box-shadow:inset 0 -2px 1px #070a14,0 2px 5px rgba(0,0,0,.75)"></div>
<svg class="a ic" style="left:333.00px;top:345.10px;color:#c084fc;stroke-width:2;" width="20" height="20"><use href="#i-percent"/></svg>
<div class="a t" style="left:361.70px;top:345.85px;font-size:14px;line-height:18px;color:#a3adc1;">Sc...</div>
<svg class="a ic" style="left:400.20px;top:324.70px;color:#c9ab44;stroke-width:1.9;" width="14" height="14"><use href="#i-flask"/></svg>
<svg class="a" style="left:336.40px;top:370.00px" width="54" height="32" viewBox="0 0 54 32"><path d="M5.40 27 A21.6 21.6 0 0 1 48.60 27" fill="none" stroke="#242b3a" stroke-width="4.2" stroke-linecap="round"/><path d="M5.40 27 A21.6 21.6 0 0 1 43.64 13.23" fill="none" stroke="#e9b93a" stroke-width="4.2" stroke-linecap="round"/></svg>
<div class="a t" style="left:333.40px;top:384.05px;width:60px;text-align:center;font-size:14px;line-height:18px;font-weight:700;color:#facc15;transform:scaleX(1.11)">78<span style="color:#a3adc1">%</span></div>
<div class="a t" style="left:316.30px;top:410.18px;font-size:12.75px;line-height:16px;color:#a3adc1;text-align:center;width:94.20px;">compliance</div>
<div class="a t" style="left:316.30px;top:426.18px;font-size:12.75px;line-height:16px;color:#a3adc1;text-align:center;width:94.20px;">score</div>
<div class="a" style="left:427.20px;top:328px;width:94.2px;height:132px;border-radius:8px;background:#121827;border:1px solid #1d222d;box-sizing:border-box;box-shadow:inset 0 -2px 1px #070a14,0 2px 5px rgba(0,0,0,.75)"></div>
<svg class="a ic" style="left:443.90px;top:345.10px;color:#60a5fa;stroke-width:2;" width="20" height="20"><use href="#i-clip-list"/></svg>
<div class="a t" style="left:472.60px;top:345.85px;font-size:14px;line-height:18px;color:#a3adc1;">To...</div>
<svg class="a ic" style="left:511.10px;top:324.70px;color:#c9ab44;stroke-width:1.9;" width="14" height="14"><use href="#i-flask"/></svg>
<div class="a t" style="left:443.80px;top:373.26px;font-size:31px;line-height:36px;color:#ffffff;font-weight:700;transform:scaleX(1.1103);transform-origin:0 0;">540</div>
<div class="a t" style="left:443.50px;top:408.18px;font-size:12.75px;line-height:16px;color:#a3adc1;">total</div>
<div class="a t" style="left:443.50px;top:424.18px;font-size:12.75px;line-height:16px;color:#a3adc1;">checks</div>
<div class="a" style="left:538.10px;top:328px;width:94.2px;height:132px;border-radius:8px;background:#121827;border:1px solid #1d222d;box-sizing:border-box;box-shadow:inset 0 -2px 1px #070a14,0 2px 5px rgba(0,0,0,.75)"></div>
<svg class="a ic" style="left:554.80px;top:345.10px;color:#4ade80;stroke-width:2;" width="20" height="20"><use href="#i-ccheck"/></svg>
<div class="a t" style="left:583.50px;top:345.85px;font-size:14px;line-height:18px;color:#a3adc1;">Pa...</div>
<svg class="a ic" style="left:622.00px;top:324.70px;color:#c9ab44;stroke-width:1.9;" width="14" height="14"><use href="#i-flask"/></svg>
<div class="a t" style="left:554.70px;top:373.26px;font-size:31px;line-height:36px;color:#ffffff;font-weight:700;transform:scaleX(0.9787);transform-origin:0 0;">136</div>
<div class="a t" style="left:554.40px;top:408.18px;font-size:12.75px;line-height:16px;color:#a3adc1;">passing</div>
<div class="a" style="left:649.00px;top:328px;width:94.2px;height:132px;border-radius:8px;background:#121827;border:1px solid #1d222d;box-sizing:border-box;box-shadow:inset 0 -2px 1px #070a14,0 2px 5px rgba(0,0,0,.75)"></div>
<svg class="a ic" style="left:665.70px;top:345.10px;color:#f87171;stroke-width:2;" width="20" height="20"><use href="#i-cx"/></svg>
<div class="a t" style="left:694.40px;top:345.85px;font-size:14px;line-height:18px;color:#a3adc1;">Fai...</div>
<svg class="a ic" style="left:732.90px;top:324.70px;color:#c9ab44;stroke-width:1.9;" width="14" height="14"><use href="#i-flask"/></svg>
<div class="a t" style="left:665.60px;top:373.26px;font-size:31px;line-height:36px;color:#ffffff;font-weight:700;transform:scaleX(1.0783);transform-origin:0 0;">20</div>
<div class="a t" style="left:665.30px;top:408.18px;font-size:12.75px;line-height:16px;color:#a3adc1;">failing</div>
<div class="a" style="left:759.90px;top:328px;width:94.2px;height:132px;border-radius:8px;background:#121827;border:1px solid #1d222d;box-sizing:border-box;box-shadow:inset 0 -2px 1px #070a14,0 2px 5px rgba(0,0,0,.75)"></div>
<svg class="a ic" style="left:776.60px;top:345.10px;color:#22d3ee;stroke-width:2;" width="20" height="20"><use href="#i-server"/></svg>
<div class="a t" style="left:805.30px;top:345.85px;font-size:14px;line-height:18px;color:#a3adc1;">CIS</div>
<svg class="a ic" style="left:843.80px;top:324.70px;color:#c9ab44;stroke-width:1.9;" width="14" height="14"><use href="#i-flask"/></svg>
<svg class="a" style="left:780.00px;top:370.00px" width="54" height="32" viewBox="0 0 54 32"><path d="M5.40 27 A21.6 21.6 0 0 1 48.60 27" fill="none" stroke="#242b3a" stroke-width="4.2" stroke-linecap="round"/><path d="M5.40 27 A21.6 21.6 0 0 1 46.25 17.19" fill="none" stroke="#e9b93a" stroke-width="4.2" stroke-linecap="round"/></svg>
<div class="a t" style="left:777.00px;top:384.05px;width:60px;text-align:center;font-size:14px;line-height:18px;font-weight:700;color:#facc15;transform:scaleX(1.11)">85<span style="color:#a3adc1">%</span></div>
<div class="a t" style="left:759.90px;top:410.18px;font-size:12.75px;line-height:16px;color:#a3adc1;text-align:center;width:94.20px;">CIS</div>
<div class="a t" style="left:759.90px;top:426.18px;font-size:12.75px;line-height:16px;color:#a3adc1;text-align:center;width:94.20px;">benchmark</div>
<div class="a" style="left:870.80px;top:328px;width:94.2px;height:132px;border-radius:8px;background:#121827;border:1px solid #1d222d;box-sizing:border-box;box-shadow:inset 0 -2px 1px #070a14,0 2px 5px rgba(0,0,0,.75)"></div>
<svg class="a ic" style="left:887.50px;top:345.10px;color:#60a5fa;stroke-width:2;" width="20" height="20"><use href="#i-server"/></svg>
<div class="a t" style="left:916.20px;top:345.85px;font-size:14px;line-height:18px;color:#a3adc1;">NSA</div>
<svg class="a ic" style="left:954.70px;top:324.70px;color:#c9ab44;stroke-width:1.9;" width="14" height="14"><use href="#i-flask"/></svg>
<svg class="a" style="left:890.90px;top:370.00px" width="54" height="32" viewBox="0 0 54 32"><path d="M5.40 27 A21.6 21.6 0 0 1 48.60 27" fill="none" stroke="#242b3a" stroke-width="4.2" stroke-linecap="round"/><path d="M5.40 27 A21.6 21.6 0 0 1 44.07 13.76" fill="none" stroke="#e9b93a" stroke-width="4.2" stroke-linecap="round"/></svg>
<div class="a t" style="left:887.90px;top:384.05px;width:60px;text-align:center;font-size:14px;line-height:18px;font-weight:700;color:#facc15;transform:scaleX(1.11)">79<span style="color:#a3adc1">%</span></div>
<div class="a t" style="left:870.80px;top:410.18px;font-size:12.75px;line-height:16px;color:#a3adc1;text-align:center;width:94.20px;">NSA</div>
<div class="a t" style="left:870.80px;top:426.18px;font-size:12.75px;line-height:16px;color:#a3adc1;text-align:center;width:94.20px;">hardening</div>
<div class="a" style="left:981.70px;top:328px;width:94.2px;height:132px;border-radius:8px;background:#121827;border:1px solid #1d222d;box-sizing:border-box;box-shadow:inset 0 -2px 1px #070a14,0 2px 5px rgba(0,0,0,.75)"></div>
<svg class="a ic" style="left:998.40px;top:345.10px;color:#c084fc;stroke-width:2;" width="20" height="20"><use href="#i-server"/></svg>
<div class="a t" style="left:1027.10px;top:345.85px;font-size:14px;line-height:18px;color:#a3adc1;">PC...</div>
<svg class="a ic" style="left:1065.60px;top:324.70px;color:#c9ab44;stroke-width:1.9;" width="14" height="14"><use href="#i-flask"/></svg>
<div class="a t" style="left:998.30px;top:373.26px;font-size:31px;line-height:36px;color:#ffffff;font-weight:700;transform:scaleX(1.0355);transform-origin:0 0;">75%</div>
<div class="a t" style="left:998.00px;top:408.18px;font-size:12.75px;line-height:16px;color:#a3adc1;">PCI-DSS</div>
<div class="a" style="left:1092.60px;top:328px;width:94.2px;height:132px;border-radius:8px;background:#121827;border:1px solid #1d222d;box-sizing:border-box;box-shadow:inset 0 -2px 1px #070a14,0 2px 5px rgba(0,0,0,.75)"></div>
<svg class="a ic" style="left:1109.30px;top:345.10px;color:#fb923c;stroke-width:2;" width="20" height="20"><use href="#i-shield-alert"/></svg>
<div class="a t" style="left:1138.00px;top:345.85px;font-size:14px;line-height:18px;color:#a3adc1;">Ga...</div>
<svg class="a ic" style="left:1176.50px;top:324.70px;color:#c9ab44;stroke-width:1.9;" width="14" height="14"><use href="#i-flask"/></svg>
<div class="a t" style="left:1109.20px;top:373.26px;font-size:31px;line-height:36px;color:#ffffff;font-weight:700;transform:scaleX(1.0783);transform-origin:0 0;">38</div>
<div class="a t" style="left:1108.90px;top:408.18px;font-size:12.75px;line-height:16px;color:#a3adc1;">Gatekeeper</div>
<div class="a t" style="left:1108.90px;top:424.18px;font-size:12.75px;line-height:16px;color:#a3adc1;">violations</div>
<div class="a" style="left:1203.50px;top:328px;width:94.2px;height:132px;border-radius:8px;background:#121827;border:1px solid #1d222d;box-sizing:border-box;box-shadow:inset 0 -2px 1px #070a14,0 2px 5px rgba(0,0,0,.75)"></div>
<svg class="a ic" style="left:1220.20px;top:345.10px;color:#facc15;stroke-width:2;" width="20" height="20"><use href="#i-shield-alert"/></svg>
<div class="a t" style="left:1248.90px;top:345.85px;font-size:14px;line-height:18px;color:#a3adc1;">Ky...</div>
<svg class="a ic" style="left:1287.40px;top:324.70px;color:#c9ab44;stroke-width:1.9;" width="14" height="14"><use href="#i-flask"/></svg>
<div class="a t" style="left:1220.10px;top:373.26px;font-size:31px;line-height:36px;color:#ffffff;font-weight:700;transform:scaleX(1.0609);transform-origin:0 0;">33</div>
<div class="a t" style="left:1219.80px;top:408.18px;font-size:12.75px;line-height:16px;color:#a3adc1;">Kyverno</div>
<div class="a t" style="left:1219.80px;top:424.18px;font-size:12.75px;line-height:16px;color:#a3adc1;">violations</div>
<div class="a" style="left:1314.40px;top:328px;width:94.2px;height:132px;border-radius:8px;background:#121827;border:1px solid #1d222d;box-sizing:border-box;box-shadow:inset 0 -2px 1px #070a14,0 2px 5px rgba(0,0,0,.75)"></div>
<svg class="a ic" style="left:1331.10px;top:345.10px;color:#4ade80;stroke-width:2;" width="20" height="20"><use href="#i-server"/></svg>
<div class="a t" style="left:1359.80px;top:345.85px;font-size:14px;line-height:18px;color:#a3adc1;">Ku...</div>
<svg class="a ic" style="left:1398.30px;top:324.70px;color:#c9ab44;stroke-width:1.9;" width="14" height="14"><use href="#i-flask"/></svg>
<div class="a t" style="left:1331.00px;top:373.26px;font-size:31px;line-height:36px;color:#ffffff;font-weight:700;transform:scaleX(1.0371);transform-origin:0 0;">78%</div>
<div class="a t" style="left:1330.70px;top:408.18px;font-size:12.75px;line-height:16px;color:#a3adc1;">Kubescape</div>
<div class="a t" style="left:1330.70px;top:424.18px;font-size:12.75px;line-height:16px;color:#a3adc1;">score</div>
<div class="a" style="left:316.30px;top:477px;width:94.2px;height:129px;border-radius:8px;background:#121827;border:1px solid #1d222d;box-sizing:border-box;box-shadow:inset 0 -2px 1px #070a14,0 2px 5px rgba(0,0,0,.75)"></div>
<svg class="a ic" style="left:333.00px;top:494.10px;color:#f87171;stroke-width:2;" width="20" height="20"><use href="#i-calert"/></svg>
<div class="a t" style="left:361.70px;top:494.85px;font-size:14px;line-height:18px;color:#a3adc1;">Cri...</div>
<svg class="a ic" style="left:400.20px;top:473.70px;color:#c9ab44;stroke-width:1.9;" width="14" height="14"><use href="#i-flask"/></svg>
<div class="a t" style="left:332.90px;top:522.26px;font-size:31px;line-height:36px;color:#ffffff;font-weight:700;transform:scaleX(0.8638);transform-origin:0 0;">21</div>
<div class="a t" style="left:332.60px;top:557.18px;font-size:12.75px;line-height:16px;color:#a3adc1;">critical</div>
<div class="a t" style="left:332.60px;top:573.18px;font-size:12.75px;line-height:16px;color:#a3adc1;">CVEs</div>
<div class="a" style="left:427.20px;top:477px;width:94.2px;height:129px;border-radius:8px;background:#121827;border:1px solid #1d222d;box-sizing:border-box;box-shadow:inset 0 -2px 1px #070a14,0 2px 5px rgba(0,0,0,.75)"></div>
<svg class="a ic" style="left:443.90px;top:494.10px;color:#fb923c;stroke-width:2;" width="20" height="20"><use href="#i-tri"/></svg>
<div class="a t" style="left:472.60px;top:494.85px;font-size:14px;line-height:18px;color:#a3adc1;">Hi...</div>
<svg class="a ic" style="left:511.10px;top:473.70px;color:#c9ab44;stroke-width:1.9;" width="14" height="14"><use href="#i-flask"/></svg>
<div class="a t" style="left:443.80px;top:522.26px;font-size:31px;line-height:36px;color:#ffffff;font-weight:700;transform:scaleX(1.0725);transform-origin:0 0;">50</div>
<div class="a t" style="left:443.50px;top:557.18px;font-size:12.75px;line-height:16px;color:#a3adc1;">high CVEs</div>
<svg class="a ic" style="left:316.00px;top:631.60px;color:#a3adc1;stroke-width:2;" width="16" height="16"><use href="#i-grid"/></svg>
<div class="a t" id="spc" style="left:340.40px;top:630.82px;font-size:14.65px;line-height:18px;color:#a3adc1;-webkit-text-stroke:0.4px currentColor;">Security Posture Cards (11)</div>
<svg class="a ic" style="left:528.20px;top:631.60px;color:#a3adc1;stroke-width:2;" width="16" height="16"><use href="#i-chev-down"/></svg>
<div class="a" style="left:316.5px;top:662px;width:542.0px;height:260px;border-radius:10px;background:#121828;border:1px solid #1c2232;box-sizing:border-box"></div>
<div class="a" style="left:316.50px;top:715.20px;width:542.00px;height:1.00px;background:#1c2333;border-radius:0px;"></div>
<div class="a" style="left:316.5px;top:662px;width:16px;height:16px;border-top:1.7px solid #7f6732;border-left:1.7px solid #7f6732;border-top-left-radius:10px;box-sizing:border-box"></div>
<div class="a" style="left:842.5px;top:662px;width:16px;height:16px;border-top:1.7px solid #7f6732;border-right:1.7px solid #7f6732;border-top-right-radius:10px;box-sizing:border-box"></div>
<div class="a" style="left:867px;top:662px;width:359px;height:260px;border-radius:10px;background:#121828;border:1px solid #1c2232;box-sizing:border-box"></div>
<div class="a" style="left:867.00px;top:715.20px;width:359.00px;height:1.00px;background:#1c2333;border-radius:0px;"></div>
<div class="a" style="left:867px;top:662px;width:16px;height:16px;border-top:1.7px solid #7f6732;border-left:1.7px solid #7f6732;border-top-left-radius:10px;box-sizing:border-box"></div>
<div class="a" style="left:1210px;top:662px;width:16px;height:16px;border-top:1.7px solid #7f6732;border-right:1.7px solid #7f6732;border-top-right-radius:10px;box-sizing:border-box"></div>
<svg class="a" style="left:337.05px;top:681.3px;color:#9ca3af" width="16" height="16" viewBox="0 0 24 24" fill="currentColor"><circle cx="9" cy="5" r="1.9"/><circle cx="15" cy="5" r="1.9"/><circle cx="9" cy="12" r="1.9"/><circle cx="15" cy="12" r="1.9"/><circle cx="9" cy="19" r="1.9"/><circle cx="15" cy="19" r="1.9"/></svg>
<div class="a t" id="rp" style="left:365.50px;top:680.07px;font-size:14.8px;line-height:18px;color:#ffffff;-webkit-text-stroke:0.4px currentColor;">Recommended Policies</div>
<svg class="a ic" style="left:531.00px;top:682.40px;color:#6b7280;stroke-width:1.6;" width="14" height="14"><use href="#i-info"/></svg>
<div class="a" style="left:555.20px;top:680.60px;width:39.70px;height:17.90px;background:#3a3322;border-radius:3px;"></div>
<div class="a t" style="left:561.80px;top:682.85px;font-size:10.1px;line-height:13px;color:#facc15;">Demo</div>
<div class="a t" style="left:603.40px;top:682.75px;font-size:10.4px;line-height:13px;color:#9ca3af;">now</div>
<svg class="a ic" style="left:692.00px;top:681.30px;color:#9ca3af;stroke-width:2;" width="16" height="16"><use href="#i-chev-down"/></svg>
<svg class="a ic" style="left:723.60px;top:681.30px;color:#9ca3af;stroke-width:2;" width="16" height="16"><use href="#i-refresh"/></svg>
<svg class="a ic" style="left:756.00px;top:681.30px;color:#9ca3af;stroke-width:2;" width="16" height="16"><use href="#i-max"/></svg>
<svg class="a ic" style="left:788.00px;top:681.30px;color:#9ca3af;stroke-width:2;" width="16" height="16"><use href="#i-bug"/></svg>
<svg class="a ic" style="left:820.00px;top:681.30px;color:#9ca3af;stroke-width:2;" width="16" height="16"><use href="#i-more"/></svg>
<div class="a" style="left:333.00px;top:733.00px;width:508.70px;height:69.00px;background:#161d2e;border-radius:10px;border:1px solid #1b2334;box-sizing:border-box;"></div>
<svg class="a" style="left:347.2px;top:746.9px" width="41.4" height="41.4" viewBox="0 0 41.4 41.4"><circle cx="20.7" cy="20.7" r="18.7" fill="none" stroke="#1f2838" stroke-width="4"/></svg>
<div class="a t" style="left:357.80px;top:759.67px;font-size:12.2px;line-height:15px;color:#ffffff;font-weight:700;text-align:center;width:20.00px;">0%</div>
<div class="a t" id="fc" style="left:404.40px;top:750.65px;font-size:14px;line-height:18px;color:#ffffff;font-weight:700;">Fleet Coverage</div>
<div class="a t" id="arp" style="left:404.40px;top:769.07px;font-size:12.78px;line-height:16px;color:#94a3b8;">All recommended policies deployed</div>
<div class="a" style="left:333.00px;top:814.60px;width:508.70px;height:36.00px;background:#141b2b;border-radius:8px;"></div>
<svg class="a ic" style="left:342.00px;top:825.50px;color:#f87171;stroke-width:2;" width="14" height="14"><use href="#i-chev-right"/></svg>
<div class="a t" style="left:364.50px;top:824.03px;font-size:12.9px;line-height:16px;color:#f87171;-webkit-text-stroke:0.4px currentColor;">Security Hardening</div>
<div class="a" style="left:764.10px;top:823.50px;width:68.60px;height:17.90px;background:#1f3a2e;border-radius:4px;"></div>
<svg class="a ic" style="left:770.00px;top:826.50px;color:#6ddc93;stroke-width:1.8;" width="12" height="12"><use href="#i-ccheck"/></svg>
<div class="a t" style="left:788.60px;top:825.81px;font-size:10.65px;line-height:13px;color:#6ddc93;-webkit-text-stroke:0.25px currentColor;">covered</div>
<div class="a" style="left:333.00px;top:856.30px;width:508.70px;height:36.00px;background:#141b2b;border-radius:8px;"></div>
<svg class="a ic" style="left:342.00px;top:867.50px;color:#60a5fa;stroke-width:2;" width="14" height="14"><use href="#i-chev-right"/></svg>
<div class="a t" style="left:364.50px;top:866.09px;font-size:12.72px;line-height:16px;color:#60a5fa;-webkit-text-stroke:0.4px currentColor;">Best Practices</div>
<div class="a" style="left:764.10px;top:865.50px;width:68.60px;height:17.90px;background:#1f3a2e;border-radius:4px;"></div>
<svg class="a ic" style="left:770.00px;top:868.50px;color:#6ddc93;stroke-width:1.8;" width="12" height="12"><use href="#i-ccheck"/></svg>
<div class="a t" style="left:788.60px;top:867.81px;font-size:10.65px;line-height:13px;color:#6ddc93;-webkit-text-stroke:0.25px currentColor;">covered</div>
<svg class="a" style="left:887.9px;top:681.4px;color:#9ca3af" width="16" height="16" viewBox="0 0 24 24" fill="currentColor"><circle cx="9" cy="5" r="1.9"/><circle cx="15" cy="5" r="1.9"/><circle cx="9" cy="12" r="1.9"/><circle cx="15" cy="12" r="1.9"/><circle cx="9" cy="19" r="1.9"/><circle cx="15" cy="19" r="1.9"/></svg>
<svg class="a ic" style="left:916.00px;top:681.60px;color:#4ade80;stroke-width:2;" width="16" height="16"><use href="#i-shield"/></svg>
<div class="a t" style="left:940.40px;top:680.55px;font-size:14.3px;line-height:18px;color:#ffffff;-webkit-text-stroke:0.4px currentColor;">C</div>
<div class="a" style="left:950.50px;top:693.30px;width:1.00px;height:1.00px;background:#9ca3af;border-radius:0px;"></div>
<svg class="a ic" style="left:961.50px;top:682.40px;color:#6b7280;stroke-width:1.6;" width="14" height="14"><use href="#i-info"/></svg>
<div class="a" style="left:985.40px;top:680.50px;width:40.00px;height:18.10px;background:#3a3322;border-radius:3px;"></div>
<div class="a t" style="left:992.00px;top:682.85px;font-size:10.1px;line-height:13px;color:#facc15;">Demo</div>
<div class="a t" style="left:1033.60px;top:682.75px;font-size:10.4px;line-height:13px;color:#9ca3af;">now</div>
<svg class="a ic" style="left:1059.50px;top:681.40px;color:#9ca3af;stroke-width:2;" width="16" height="16"><use href="#i-chev-down"/></svg>
<svg class="a ic" style="left:1091.50px;top:681.40px;color:#9ca3af;stroke-width:2;" width="16" height="16"><use href="#i-refresh"/></svg>
<svg class="a ic" style="left:1123.50px;top:681.40px;color:#9ca3af;stroke-width:2;" width="16" height="16"><use href="#i-max"/></svg>
<svg class="a ic" style="left:1155.50px;top:681.40px;color:#9ca3af;stroke-width:2;" width="16" height="16"><use href="#i-bug"/></svg>
<svg class="a ic" style="left:1187.50px;top:681.40px;color:#9ca3af;stroke-width:2;" width="16" height="16"><use href="#i-more"/></svg>
<div class="a" style="left:884.00px;top:732.50px;width:325.00px;height:42.50px;background:#151c2c;border-radius:8px;"></div>
<svg class="a ic" style="left:892.00px;top:740.40px;color:#6b7280;stroke-width:1.8;" width="12" height="12"><use href="#i-info"/></svg>
<div class="a t" id="comp" style="left:910.40px;top:739.20px;font-size:10.69px;line-height:13px;color:#a3adc1;">Composite score combining all compliance tools. Higher is</div>
<div class="a t" style="left:910.40px;top:754.20px;font-size:10.69px;line-height:13px;color:#a3adc1;">better — 100% means all controls passing, all policies clean.</div>
<svg class="a" style="left:996.40px;top:800.20px" width="100" height="100" viewBox="0 0 100 100"><circle cx="50" cy="50" r="42.6" fill="none" stroke="#1f2736" stroke-width="8"/><circle cx="50" cy="50" r="42.6" fill="none" stroke="#72de8c" stroke-width="8" stroke-dasharray="219.48 267.66" transform="rotate(-90 50 50)"/></svg>
<div class="a t" style="left:1006.40px;top:835.34px;font-size:25px;line-height:31px;color:#ffffff;font-weight:700;text-align:center;width:80.00px;transform:scaleX(1.1);">82%</div>
<div class="a" style="left:1376.00px;top:780.00px;width:40.00px;height:40.00px;background:#9333ea;border-radius:20px;"></div>
<svg class="a ic" style="left:1386.00px;top:790.00px;color:#ffffff;stroke-width:2;" width="20" height="20"><use href="#i-plus"/></svg>
<div class="a" style="left:1278.00px;top:838.00px;width:145.60px;height:45.00px;background:#0c111c;border-radius:23px;border:1px solid #283041;box-sizing:border-box;"></div>
<svg class="a" style="left:1296px;top:853px" width="18.2" height="16.5" viewBox="0 0 18.2 16.5"><path d="M6.9 0h4.4l6.9 16.5h-4.2l-1.3-3.2H5.5l-1.3 3.2H0z M7.3 9.7h3.6L9.1 5.2z" fill="#e0a030" fill-rule="evenodd"/></svg>
<div class="a t" style="left:1322.80px;top:852.31px;font-size:14.1px;line-height:18px;color:#ffffff;-webkit-text-stroke:0.4px currentColor;">1 mission</div>
<svg class="a ic" style="left:1390.80px;top:852.80px;color:#e5e7eb;stroke-width:2;" width="16" height="16"><use href="#i-chev-right"/></svg>
</div></body></html>
